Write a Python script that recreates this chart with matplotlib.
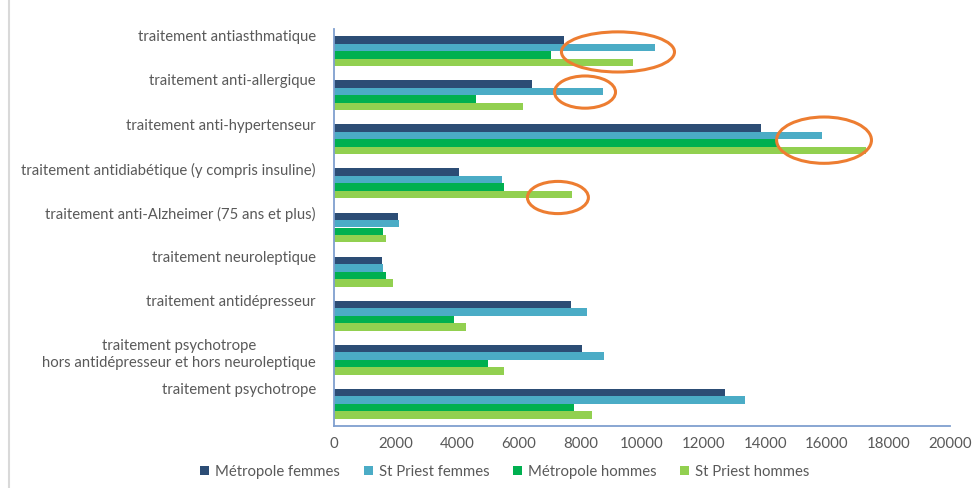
import matplotlib
matplotlib.use("Agg")
import matplotlib.pyplot as plt
from matplotlib.patches import Ellipse, Patch
from matplotlib.lines import Line2D
import numpy as np

plt.rcParams["font.family"] = ["Lato", "DejaVu Sans"]

categories = [
    "traitement antiasthmatique",
    "traitement anti-allergique",
    "traitement anti-hypertenseur",
    "traitement antidiabétique (y compris insuline)",
    "traitement anti-Alzheimer (75 ans et plus)",
    "traitement neuroleptique",
    "traitement antidépresseur",
    "traitement psychotrope\nhors antidépresseur et hors neuroleptique",
    "traitement psychotrope",
]

series_names = ["Métropole femmes", "St Priest femmes", "Métropole hommes", "St Priest hommes"]

metropole_femmes = [7470, 6420, 13850, 4050, 2090, 1570, 7690, 8040, 12700]
st_priest_femmes = [10420, 8730, 15850, 5460, 2120, 1590, 8200, 8750, 13350]
metropole_hommes = [7050, 4610, 14380, 5510, 1590, 1680, 3890, 4990, 7800]
st_priest_hommes = [9710, 6140, 17280, 7720, 1680, 1920, 4300, 5520, 8370]

x_ticks = [0, 2000, 4000, 6000, 8000, 10000, 12000, 14000, 16000, 18000, 20000]

# highlighted values: (category index, x centre, y offset, width, height)
highlights = [
    (0, 9220, 0.02, 3670, 0.91),
    (1, 8150, -0.07, 1980, 0.73),
    (2, 15910, 0.02, 3080, 1.05),
    (3, 7270, 0.32, 1980, 0.73),
]

colors = ["#2C4D75", "#4BACC6", "#00B050", "#92D050"]
text_color = "#595959"
axis_color = "#7F9FCF"
circle_color = "#ED7D31"

fig = plt.figure(figsize=(9.8, 4.88), dpi=100)
ax = fig.add_axes([334 / 980, 62 / 488, 616 / 980, 397 / 488])

values = [metropole_femmes, st_priest_femmes, metropole_hommes, st_priest_hommes]
y = np.arange(len(categories))
bar_h = 0.17
for k, (vals, name, col) in enumerate(zip(values, series_names, colors)):
    ax.barh(y + (k - 1.5) * bar_h, vals, height=bar_h, color=col, label=name,
            edgecolor="none")

for idx, xc, dy, w, h in highlights:
    ax.add_patch(Ellipse((xc, idx + dy), w, h, fill=False, edgecolor=circle_color,
                         linewidth=2.2, clip_on=False, zorder=5))

ax.set_xlim(0, 20000)
ax.set_ylim(len(categories) - 0.5, -0.5)
ax.set_xticks(x_ticks)
ax.set_xticklabels([str(t) for t in x_ticks], color=text_color, fontsize=10.8)
ax.set_yticks(y - 0.47)
ax.set_yticklabels(categories, color=text_color, fontsize=10.7, multialignment="center",
                   linespacing=1.3)
for lbl in ax.get_yticklabels():
    lbl.set_va("top")
ax.tick_params(axis="both", length=0)
ax.tick_params(axis="x", pad=8)
ax.tick_params(axis="y", pad=13)

for side in ("top", "right"):
    ax.spines[side].set_visible(False)
for side in ("left", "bottom"):
    ax.spines[side].set_color(axis_color)
    ax.spines[side].set_linewidth(1.3)

handles = [Patch(facecolor=c, edgecolor="none", label=n) for c, n in zip(colors, series_names)]
fig.legend(handles=handles, loc="center", bbox_to_anchor=(505 / 980, 1 - 472 / 488),
           ncol=4, frameon=False, fontsize=10.7, handlelength=0.6, handleheight=0.6,
           handletextpad=0.4, columnspacing=1.6, labelcolor=text_color)

fig.add_artist(Line2D([9 / 980, 9 / 980], [0, 1], color="#D9D9D9", linewidth=1.5,
                      transform=fig.transFigure))

fig.savefig("out.png", dpi=100, facecolor="white")
